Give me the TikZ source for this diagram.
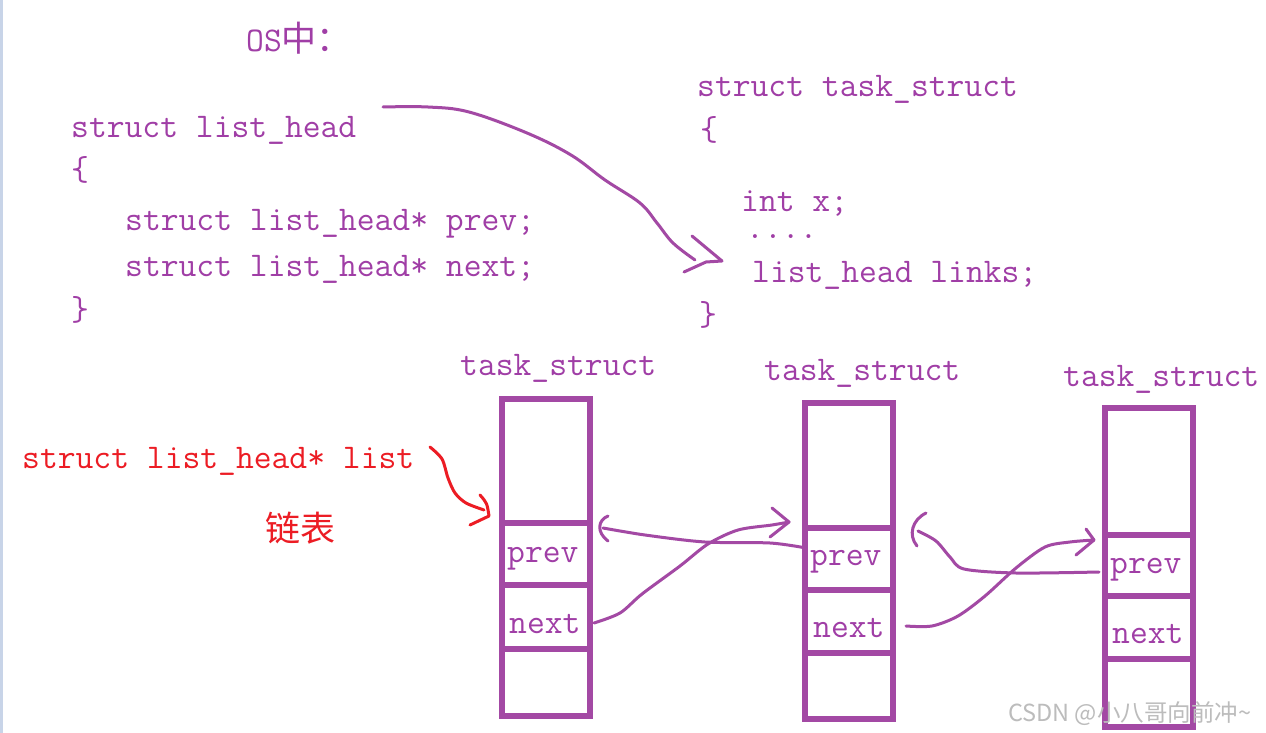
\documentclass[tikz,border=0pt]{standalone}
\usepackage{fontspec}
\newfontfamily\cjk{Noto Sans CJK SC}
\definecolor{pur}{RGB}{163,73,164}
\definecolor{ptext}{RGB}{160,62,166}
\definecolor{rd}{RGB}{236,28,36}
\definecolor{edgeblue}{RGB}{200,212,232}
\definecolor{wm}{RGB}{188,188,188}
\begin{document}
\begin{tikzpicture}[x=1pt,y=-1pt,
  code/.style={font=\fontsize{34.6}{40}\selectfont\ttfamily, text=ptext, inner sep=0pt, anchor=base west},
  redcode/.style={code, text=rd},
  cell/.style={draw=pur, line width=5.5pt, minimum width=88pt, inner sep=0pt},
  conn/.style={draw=pur, line width=3pt, line cap=round, line join=round},
  redconn/.style={conn, draw=rd},
]
\fill[white] (0,0) rectangle (1266,733);
\useasboundingbox (0,0) rectangle (1266,733);
\fill[edgeblue] (0,0) rectangle (3,733);

% top-left struct
\node[code] (os) at (246,52) {OS{\cjk\fontsize{35}{40}\selectfont 中：}};
\node[code] (lh) at (71,138) {struct list\_head};
\node[code] (lb1) at (71,180) {\{};
\node[code] (lprev) at (125,230) {struct list\_head* prev;};
\node[code] (lnext) at (125,276) {struct list\_head* next;};
\node[code] (lb2) at (71,320) {\}};

% top-right struct
\node[code] (ts) at (697,97) {struct task\_struct};
\node[code] (tb1) at (700,140) {\{};
\node[code, text depth=0pt] (tx) at (741,211) {int x;};
\node[code, text height=5pt, text depth=0pt] (tdots) at (746,238) {....};
\node[code] (tlinks) at (752,282) {list\_head links;};
\node[code] (tb2) at (699,325) {\}};

% red label
\node[redcode] (rlist) at (22,468) {struct list\_head* list};
\node[text=rd, font=\cjk\fontsize{35}{40}\selectfont, inner sep=0pt] (chain) at (300,528) {链表};

% box labels
\node[code] (t1) at (460,375) {task\_struct};
\node[code] (t2) at (764,380) {task\_struct};
\node[code] (t3) at (1063,386) {task\_struct};

% box 1
\node[cell, minimum height=124pt] (b1t) at (546,461) {};
\node[cell, minimum height=62pt] (b1p) at (546,554) {};
\node[cell, minimum height=64pt] (b1n) at (546,617) {};
\node[cell, minimum height=67pt] (b1b) at (546,682.5) {};
% box 2
\node[cell, minimum height=125pt] (b2t) at (849,465.5) {};
\node[cell, minimum height=62pt] (b2p) at (849,559) {};
\node[cell, minimum height=63pt] (b2n) at (849,621.5) {};
\node[cell, minimum height=66pt] (b2b) at (849,686) {};
% box 3
\node[cell, minimum height=127pt] (b3t) at (1149,471.5) {};
\node[cell, minimum height=61pt] (b3p) at (1149,565.5) {};
\node[cell, minimum height=63pt] (b3n) at (1149,627.5) {};
\node[cell, minimum height=68pt] (b3b) at (1149,693) {};

\node[code] (p1) at (507,562) {prev};
\node[code] (n1) at (509,633) {next};
\node[code] (p2) at (810,565) {prev};
\node[code] (n2) at (813,637) {next};
\node[code] (p3) at (1110,573) {prev};
\node[code] (n3) at (1112,643) {next};

% connectors
\coordinate (a1s) at (383,107);
\coordinate (a1e) at (695,260);
\coordinate (a1t) at (722,261);
\draw[conn] plot[smooth, tension=0.6] coordinates {(a1s) (428,107) (469,112) (527,133) (571,155) (605,180) (640,203) (657,223) (673,243) (a1e)};
\draw[conn] (692,236) -- (a1t) -- (706,262) -- (684,272);

\coordinate (r1s) at (430,447);
\coordinate (r1t) at (489,516);
\draw[redconn] plot[smooth] coordinates {(r1s) (442,459) (448,478) (455,493) (466,503) (484,510)};
\draw[redconn] (480,495) .. controls (487,503) .. (r1t) -- (470,525);

\coordinate (a2s) at (594,623);
\coordinate (a2t) at (789,522);
\draw[conn] plot[smooth] coordinates {(a2s) (620,613) (642,594) (680,566) (708,544) (738,530) (772,525) (a2t)};
\draw[conn] (772,508) -- (a2t) -- (770,537);

\coordinate (a3s) at (806,548);
\coordinate (a3t) at (603,528);
\draw[conn] plot[smooth] coordinates {(a3s) (770,543) (705,542) (645,535) (a3t)};
\draw[conn] (608,516) .. controls (598,520) and (596,532) .. (608,541);

\coordinate (a4s) at (1099,572);
\coordinate (a4t) at (918,531);
\draw[conn] plot[smooth] coordinates {(a4s) (1016,573) (964,569) (950,557) (936,541) (a4t)};
\draw[conn] (926,513) .. controls (912,520) and (908,535) .. (917,546);

\coordinate (a5s) at (906,626);
\coordinate (a5t) at (1094,540);
\draw[conn] plot[smooth] coordinates {(a5s) (932,626) (958,616) (985,596) (1016,568) (1045,547) (1070,542) (a5t)};
\draw[conn] (1086,529) -- (a5t) -- (1076,555);

% watermark
\node[font=\cjk\fontsize{23.5}{27}\selectfont, text=wm, anchor=base west, inner sep=0pt] (wmark) at (1008,721) {CSDN @小八哥向前冲\textasciitilde};
\end{tikzpicture}
\end{document}
